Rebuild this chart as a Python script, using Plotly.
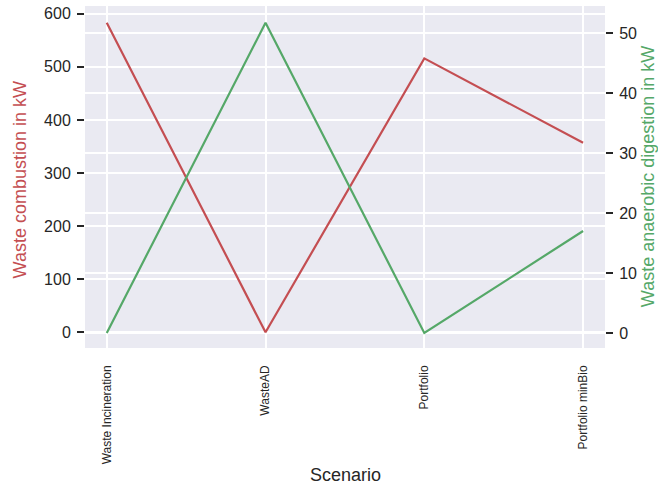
import plotly.graph_objects as go

scenarios = ["Waste Incineration", "WasteAD", "Portfolio", "Portfolio minBio"]
combustion_kw = [583, 0, 516, 357]
digestion_kw = [0, 51.7, 0, 17]

left_ticks = [0, 100, 200, 300, 400, 500, 600]
right_ticks = [0, 10, 20, 30, 40, 50]

RED = "#C44E52"
GREEN = "#55A868"
TXT = "#262626"
FONT = "Liberation Sans, Arial, sans-serif"

fig = go.Figure()
fig.add_trace(go.Scatter(x=scenarios, y=combustion_kw, mode="lines",
                         line=dict(color=RED, width=2.2), yaxis="y", showlegend=False))
fig.add_trace(go.Scatter(x=scenarios, y=digestion_kw, mode="lines",
                         line=dict(color=GREEN, width=2.2), yaxis="y2", showlegend=False))

fig.update_layout(
    width=658, height=485,
    margin=dict(l=85, r=53, t=6, b=137, autoexpand=False),
    paper_bgcolor="white", plot_bgcolor="#EAEAF2",
    font=dict(family=FONT, color=TXT),
    xaxis=dict(
        type="category", range=[-0.137, 3.138], automargin=False,
        showgrid=True, gridcolor="white", gridwidth=1.6,
        tickangle=-90, tickfont=dict(size=12, color=TXT),
        ticks="", ticklabelstandoff=14, showline=False, zeroline=False,
    ),
    yaxis=dict(
        range=[-29.6, 614.7], tickvals=left_ticks, automargin=False,
        showgrid=True, gridcolor="white", gridwidth=1.6, zeroline=False,
        ticks="outside", ticklen=7, tickwidth=1.6, tickcolor=TXT,
        tickfont=dict(size=16, color=TXT), showline=False, ticklabelstandoff=3,
    ),
    yaxis2=dict(
        range=[-2.5, 54.5], tickvals=right_ticks, overlaying="y", side="right",
        automargin=False,
        showgrid=True, gridcolor="white", gridwidth=1.6, zeroline=False,
        ticks="outside", ticklen=7, tickwidth=1.6, tickcolor=TXT,
        tickfont=dict(size=16, color=TXT), showline=False, ticklabelstandoff=3,
    ),
    annotations=[
        dict(text="Scenario", xref="paper", yref="paper", x=0.5, y=-0.371,
             xanchor="center", yanchor="middle", showarrow=False, borderpad=0,
             font=dict(size=18, color=TXT)),
        dict(text="Waste combustion in kW", xref="paper", yref="paper", x=-0.125, y=0.49,
             xanchor="center", yanchor="middle", textangle=-90, showarrow=False, borderpad=0,
             font=dict(size=18, color=RED)),
        dict(text="Waste anaerobic digestion in kW", xref="paper", yref="paper", x=1.083, y=0.5,
             xanchor="center", yanchor="middle", textangle=-90, showarrow=False, borderpad=0,
             font=dict(size=18, color=GREEN)),
    ],
)

fig.write_html("out.html", config={"displayModeBar": False},
               post_script="document.body.style.margin='0';document.body.style.overflow='hidden';")
